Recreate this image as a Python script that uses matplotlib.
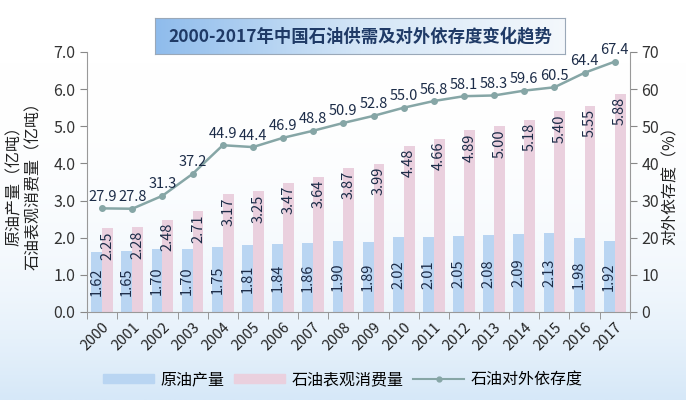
import matplotlib.pyplot as plt
import numpy as np
from matplotlib.lines import Line2D
from matplotlib.patches import Patch

plt.rcParams['font.family'] = ['Noto Sans CJK SC', 'DejaVu Sans']

years = [str(y) for y in range(2000, 2018)]
production = [1.62, 1.65, 1.70, 1.70, 1.75, 1.81, 1.84, 1.86, 1.90, 1.89,
              2.02, 2.01, 2.05, 2.08, 2.09, 2.13, 1.98, 1.92]
consumption = [2.25, 2.28, 2.48, 2.71, 3.17, 3.25, 3.47, 3.64, 3.87, 3.99,
               4.48, 4.66, 4.89, 5.00, 5.18, 5.40, 5.55, 5.88]
dependence = [27.9, 27.8, 31.3, 37.2, 44.9, 44.4, 46.9, 48.8, 50.9, 52.8,
              55.0, 56.8, 58.1, 58.3, 59.6, 60.5, 64.4, 67.4]

c_prod = '#b9d5f2'
c_cons = '#ead0de'
c_line = '#86a6a6'
c_text = '#1c2c48'

fig = plt.figure(figsize=(6.86, 4.0), dpi=100)

# background gradient (white top -> light blue bottom)
bg = fig.add_axes([0, 0, 1, 1], zorder=-10)
grad = np.linspace(0, 1, 256).reshape(-1, 1) ** 3
bg.imshow(grad, aspect='auto', cmap=plt.matplotlib.colors.LinearSegmentedColormap.from_list(
    'bg', ['#ffffff', '#d6e8f8']), extent=[0, 1, 0, 1], origin='upper')
bg.axis('off')

ax = fig.add_axes([0.127, 0.22, 0.791, 0.65])
ax.patch.set_alpha(0)
x = np.arange(len(years))
w = 0.36
b1 = ax.bar(x - w / 2, production, w, color=c_prod, zorder=2)
b2 = ax.bar(x + w / 2, consumption, w, color=c_cons, zorder=2)
for rect, v in zip(b1, production):
    ax.text(rect.get_x() + rect.get_width() / 2, v / 2, '%.2f' % v, rotation=90,
            ha='center', va='center', fontsize=10.5, color=c_text, zorder=5)
for rect, v in zip(b2, consumption):
    ax.text(rect.get_x() + rect.get_width() / 2, v - 0.08, '%.2f' % v, rotation=90,
            ha='center', va='top', fontsize=10.5, color=c_text, zorder=5)

ax.set_ylim(0, 7)
ax.set_yticks(np.arange(0, 7.01, 1.0))
ax.set_yticklabels(['%.1f' % v for v in np.arange(0, 7.01, 1.0)], fontsize=11.5, color='#333333')
ax.set_xlim(-0.5, len(years) - 0.5)
ax.set_xticks(x)
ax.set_xticklabels(years, rotation=45, ha='right', rotation_mode='anchor', fontsize=10.5, color='#222222')
ax.tick_params(axis='x', length=0, pad=6)
ax.set_xticks(np.arange(-0.5, len(years), 1.0), minor=True)
ax.tick_params(axis='x', which='minor', length=5, color='#888888')
ax.tick_params(axis='y', length=5, color='#888888')
for s in ['top', 'right']:
    ax.spines[s].set_visible(False)
ax.spines['left'].set_color('#999999')
ax.spines['bottom'].set_color('#999999')
ax.set_ylabel('原油产量（亿吨）\n石油表观消费量（亿吨）', fontsize=11.5, color='#222222', labelpad=8)

ax2 = ax.twinx()
ax2.plot(x, dependence, color=c_line, lw=1.8, marker='o', ms=4, zorder=4)
for xi, v in zip(x, dependence):
    ax2.text(xi, v + 1.2, '%.1f' % v, ha='center', va='bottom', fontsize=10.5, color=c_text, zorder=6)
ax2.set_ylim(0, 70)
ax2.set_yticks(np.arange(0, 71, 10))
ax2.tick_params(axis='y', labelsize=11.5, labelcolor='#333333', length=5, color='#888888')
for s in ['top', 'left', 'bottom']:
    ax2.spines[s].set_visible(False)
ax2.spines['right'].set_color('#999999')
ax2.set_ylabel('对外依存度（%）', fontsize=11.5, color='#222222', labelpad=2)

# title box with gradient
tax = fig.add_axes([0.226, 0.865, 0.598, 0.09])
tg = np.linspace(0, 1, 256).reshape(1, -1)
tax.imshow(tg, aspect='auto', extent=[0, 1, 0, 1],
           cmap=plt.matplotlib.colors.LinearSegmentedColormap.from_list('tb', ['#8fbcec', '#d4e6f7', '#f4f8fc']))
tax.set_xticks([])
tax.set_yticks([])
for s in tax.spines.values():
    s.set_color('#9aa8b8')
tax.text(0.5, 0.5, '2000-2017年中国石油供需及对外依存度变化趋势', ha='center', va='center',
         fontsize=12.5, fontweight='bold', color='#1f3a66', transform=tax.transAxes)

handles = [Patch(color=c_prod), Patch(color=c_cons),
           Line2D([0], [0], color=c_line, lw=1.5, marker='o', ms=3.5)]
fig.legend(handles, ['原油产量', '石油表观消费量', '石油对外依存度'], loc='center',
           bbox_to_anchor=(0.5, 0.05), ncol=3, frameon=False, fontsize=11.5,
           handlelength=3.2, handleheight=0.5, columnspacing=0.6, handletextpad=0.4)

fig.savefig('out.png', dpi=100)
